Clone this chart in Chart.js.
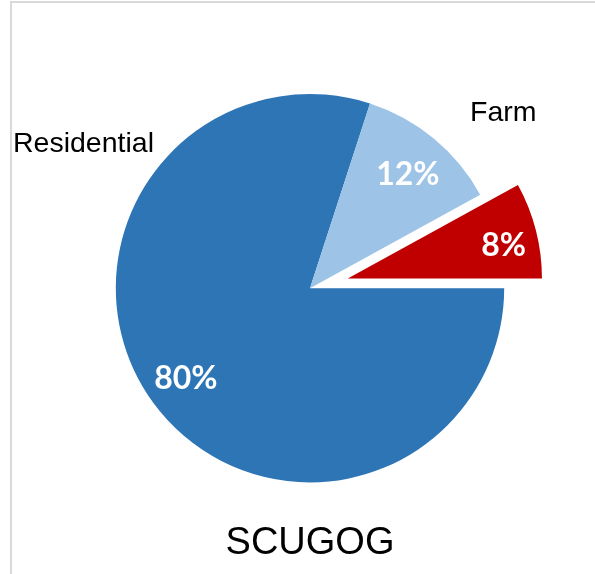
<!DOCTYPE html>
<html>
<head>
<meta charset="utf-8">
<script src="https://cdn.jsdelivr.net/npm/chart.js@4.4.1/dist/chart.umd.min.js"></script>
<style>
  html, body { margin: 0; padding: 0; background: #fff; }
  #wrap { width: 595px; height: 574px; }
</style>
</head>
<body>
<div id="wrap"><canvas id="pie" width="595" height="574"></canvas></div>
<script>
const categories = ["Residential", "Farm", ""];
const shares = [80, 12, 8];
const sliceColors = ["#2E75B6", "#9DC3E6", "#C00000"];
const chartTitle = "SCUGOG";

// the red slice is pulled out of the pie
const explodedIndex = 2;
const explodeDistance = 39;

// where each percentage sits: share of the radius, share of the slice's sweep
const labelRadius = [0.79, 0.77, 0.82];
const labelSweep = [0.5, 0.53, 0.59];

// category names sit outside the pie, Excel style
const nameSpots = [
  { x: 13, y: 152, align: "left" },
  { x: 470, y: 121, align: "left" },
  null
];

const explodePlugin = {
  id: "explode",
  afterUpdate(chart) {
    const arc = chart.getDatasetMeta(0).data[explodedIndex];
    if (!arc) return;
    const mid = (arc.startAngle + arc.endAngle) / 2;
    arc.x += Math.cos(mid) * explodeDistance;
    arc.y += Math.sin(mid) * explodeDistance;
  }
};

const framePlugin = {
  id: "frame",
  beforeDraw(chart) {
    const ctx = chart.ctx;
    ctx.save();
    ctx.fillStyle = "#d9d9d9";
    ctx.fillRect(10, 1, chart.width - 10, 2);
    ctx.fillRect(10, 1, 2, chart.height - 1);
    ctx.restore();
  }
};

const labelPlugin = {
  id: "sliceLabels",
  afterDatasetsDraw(chart) {
    const ctx = chart.ctx;
    const arcs = chart.getDatasetMeta(0).data;
    ctx.save();
    ctx.textAlign = "center";
    ctx.textBaseline = "middle";
    ctx.fillStyle = "#fff";
    ctx.font = "bold 32px Lato";
    arcs.forEach((arc, i) => {
      const a = arc.startAngle + (arc.endAngle - arc.startAngle) * labelSweep[i];
      const r = arc.outerRadius * labelRadius[i];
      ctx.fillText(shares[i] + "%", arc.x + Math.cos(a) * r, arc.y + Math.sin(a) * r);
    });

    ctx.fillStyle = "#000";
    ctx.font = "28.5px 'Liberation Sans'";
    ctx.textBaseline = "alphabetic";
    nameSpots.forEach((spot, i) => {
      if (!spot || !categories[i]) return;
      ctx.textAlign = spot.align;
      ctx.fillText(categories[i], spot.x, spot.y);
    });
    ctx.restore();
  }
};

new Chart(document.getElementById("pie"), {
  type: "pie",
  data: {
    labels: categories,
    datasets: [{
      data: shares,
      backgroundColor: sliceColors,
      borderWidth: 0
    }]
  },
  options: {
    responsive: false,
    animation: false,
    events: [],
    rotation: 90,
    layout: { padding: { left: 115, right: 90, top: 94, bottom: 8 } },
    plugins: {
      legend: { display: false },
      tooltip: { enabled: false },
      title: {
        display: true,
        position: "bottom",
        text: chartTitle,
        color: "#000",
        font: { family: "'Liberation Sans'", size: 38, weight: "normal" },
        padding: { top: 38, bottom: 0 }
      }
    }
  },
  plugins: [framePlugin, explodePlugin, labelPlugin]
});
</script>
</body>
</html>
